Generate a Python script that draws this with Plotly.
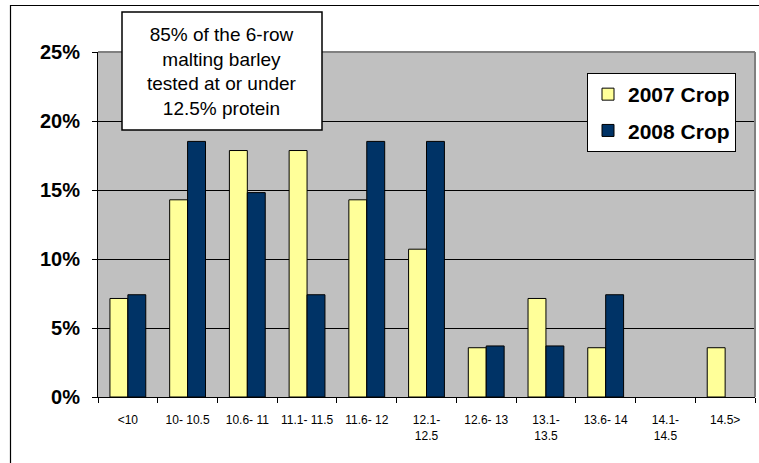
import plotly.graph_objects as go

categories = ["<10", "10- 10.5", "10.6- 11", "11.1- 11.5", "11.6- 12", "12.1-<br>12.5",
              "12.6- 13", "13.1-<br>13.5", "13.6- 14", "14.1-<br>14.5", "14.5>"]
crop_2007 = [7.14, 14.29, 17.86, 17.86, 14.29, 10.71, 3.57, 7.14, 3.57, 0, 3.57]
crop_2008 = [7.41, 18.52, 14.81, 7.41, 18.52, 18.52, 3.70, 3.70, 7.41, 0, 0]
y_ticks = [0, 5, 10, 15, 20, 25]
y_tick_labels = ["0%", "5%", "10%", "15%", "20%", "25%"]

W, H = 759, 463
L, R, T, B = 98, 4, 52, 66
pw, ph = W - L - R, H - T - B

def px(x):
    return (x - L) / pw

def py(y):
    return (H - B - y) / ph

def outline(vals):
    return [1 if v > 0 else 0 for v in vals]

fig = go.Figure()
fig.add_trace(go.Bar(name="2007 Crop", x=categories, y=crop_2007, legendgroup="a",
                     marker=dict(color="#FFFF99", line=dict(color="black", width=outline(crop_2007)))))
fig.add_trace(go.Bar(name="2008 Crop", x=categories, y=crop_2008, legendgroup="b",
                     marker=dict(color="#003366", line=dict(color="black", width=outline(crop_2008)))))

fig.update_layout(
    width=W, height=H,
    margin=dict(l=L, r=R, t=T, b=B),
    paper_bgcolor="white",
    plot_bgcolor="#C0C0C0",
    barmode="group",
    bargap=0.4,
    bargroupgap=0,
    font=dict(family="Liberation Sans, Arial, sans-serif", color="black"),
    showlegend=True,
    legend=dict(x=px(587), y=py(73), xanchor="left", yanchor="top",
                bgcolor="white", bordercolor="black", borderwidth=1,
                font=dict(size=21, family="Liberation Sans, Arial, sans-serif", weight="bold"),
                tracegroupgap=6, itemwidth=30),
    xaxis=dict(
        type="category",
        tickson="boundaries",
        ticks="outside", ticklen=5, tickcolor="black",
        showline=True, linecolor="black", linewidth=1,
        tickfont=dict(size=12),
        tickangle=0,
        ticklabelstandoff=12,
        showgrid=False,
    ),
    yaxis=dict(
        range=[0, 25],
        tickvals=y_ticks,
        ticktext=y_tick_labels,
        ticks="outside", ticklen=5, tickcolor="black",
        showline=True, linecolor="black", linewidth=1,
        showgrid=True, gridcolor="black", gridwidth=1,
        tickfont=dict(size=20, weight="bold"),
        ticklabelstandoff=8,
        zeroline=False,
    ),
)

# plot area top/right border in gray
fig.add_shape(type="line", xref="paper", yref="paper", x0=0, x1=1, y0=1, y1=1,
              line=dict(color="#808080", width=2), layer="below")
fig.add_shape(type="line", xref="paper", yref="paper", x0=1, x1=1, y0=0, y1=1,
              line=dict(color="#808080", width=2), layer="above")

# outer chart frame
fig.add_shape(type="rect", xref="paper", yref="paper",
              x0=px(10.5), x1=px(800), y0=py(500), y1=py(5.5),
              line=dict(color="black", width=1.2), fillcolor="rgba(0,0,0,0)")

# text box
fig.add_shape(type="rect", xref="paper", yref="paper",
              x0=px(122), x1=px(322), y0=py(130), y1=py(12),
              line=dict(color="black", width=1.5), fillcolor="white", layer="above")
fig.add_annotation(xref="paper", yref="paper", x=px(222), y=py(71),
                   xanchor="center", yanchor="middle",
                   text="85% of the 6-row<br>malting barley<br>tested at or under<br>12.5% protein",
                   showarrow=False, font=dict(size=19), align="center")

fig.write_html("out.html", config={"displayModeBar": False},
               post_script="document.body.style.margin='0';document.body.style.overflow='hidden';")
